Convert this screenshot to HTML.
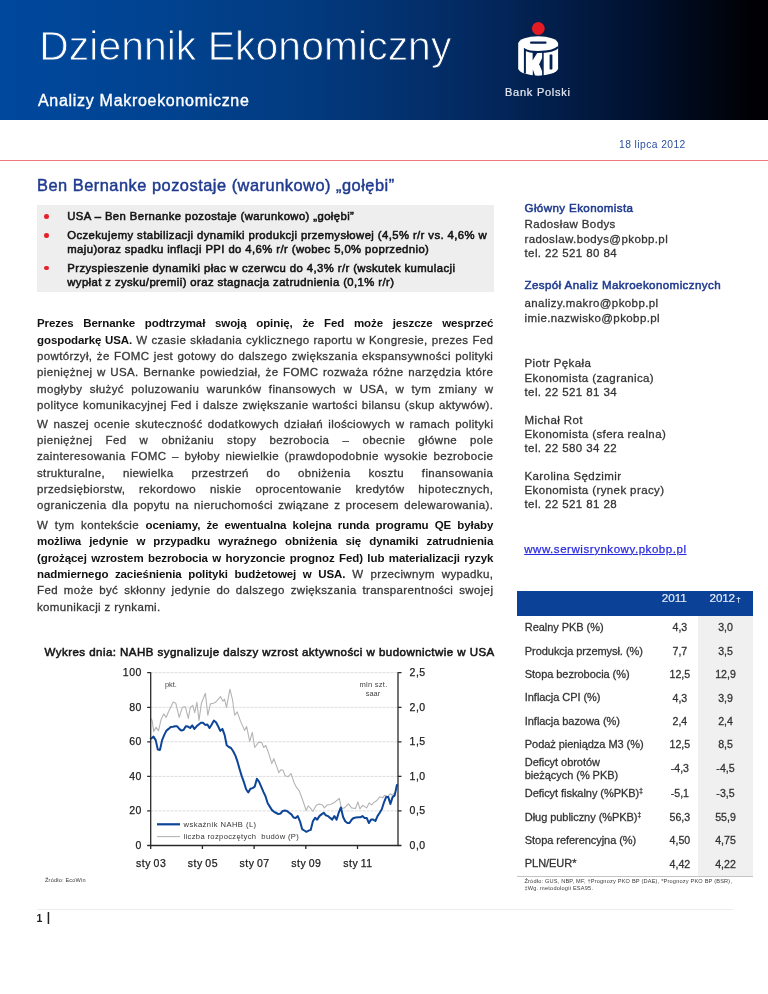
<!DOCTYPE html>
<html lang="pl"><head><meta charset="utf-8"><title>Dziennik Ekonomiczny</title>
<style>
html,body{margin:0;padding:0;background:#fff;}
body{width:768px;height:994px;position:relative;overflow:hidden;font-family:"Liberation Sans", sans-serif;color:#1a1a1a;}
.t{position:absolute;white-space:nowrap;margin:0;}
.j{white-space:normal;text-align:justify;text-align-last:justify;}
b{font-weight:700;letter-spacing:-0.08px;-webkit-text-stroke:0;color:#111;}
.p{-webkit-text-stroke:0.3px #383838;color:#383838;}
.s{-webkit-text-stroke:0.28px #333;}
.abs{position:absolute;}
</style></head>
<body>
<div class="abs" style="left:0;top:0;width:768px;height:119.5px;background:linear-gradient(90deg,#00489e 0.0%,#014391 19.5%,#023b80 39.1%,#03316f 52.1%,#03285e 62.5%,#021d48 72.9%,#01112f 83.3%,#000818 91.1%,#000105 97.7%,#000003 100.0%);"></div>
<svg class="abs" style="left:0;top:0" width="768" height="119" viewBox="0 0 768 119">
<defs><linearGradient id="hg" gradientUnits="userSpaceOnUse" x1="0" y1="0" x2="768" y2="0"><stop offset="0.0000" stop-color="#00489e"/><stop offset="0.1953" stop-color="#014391"/><stop offset="0.3906" stop-color="#023b80"/><stop offset="0.5208" stop-color="#03316f"/><stop offset="0.6250" stop-color="#03285e"/><stop offset="0.7292" stop-color="#021d48"/><stop offset="0.8333" stop-color="#01112f"/><stop offset="0.9115" stop-color="#000818"/><stop offset="0.9766" stop-color="#000105"/><stop offset="1.0000" stop-color="#000003"/></linearGradient></defs>
<text x="39.2" y="60.2" font-family="Liberation Sans, sans-serif" font-size="40.8" fill="#fff" stroke="url(#hg)" stroke-width="0.9" letter-spacing="0.09">Dziennik Ekonomiczny</text>
</svg>
<div class="t" style="left:38px;top:90.56px;font-size:16px;line-height:19px;color:#fff;letter-spacing:0.7px;-webkit-text-stroke:0.35px #fff;">Analizy Makroekonomiczne</div>
<div class="t" style="left:505px;top:86.29px;font-size:11px;line-height:13px;color:#e6e9f2;letter-spacing:0.75px;-webkit-text-stroke:0.2px #e6e9f2;">Bank Polski</div>
<svg class="abs" style="left:510px;top:15px" width="56" height="70" viewBox="0 0 56 70" role="img" aria-label="PKO Bank Polski"><title>PKO Bank Polski</title>
<circle cx="28.3" cy="13.5" r="6.4" fill="#e31b23"/>
<path d="M8.2 28.4 A20 7.7 0 0 1 48.1 28.4 L48.1 53.5 A20 7.7 0 0 1 8.2 53.5 Z" fill="#fff"/>
<rect x="20" y="26.5" width="16.6" height="2.3" rx="1.15" fill="#042152"/>
<path d="M48.1 32 C45 35.8 36 37 28 37 C22 37 17.5 36.2 14.9 34.6 L14.9 58.5" fill="none" stroke="#042152" stroke-width="2"/>
<path d="M22.6 37.6 L27.4 37.8 L22.6 45.6 Z" fill="#042152"/>
<path d="M32.6 42 L32.6 57.5 L29.2 49.2 Z" fill="#042152"/>
<path d="M22.8 61.2 L22.8 54.5 L25.4 61.4 Z" fill="#042152"/>
<path d="M32.9 36.3 L32.9 61" stroke="#042152" stroke-width="1.6"/>
<rect x="39.6" y="39.4" width="2.8" height="15" rx="0.6" fill="#042152"/>
</svg>
<div class="t" style="left:619px;top:138.73px;font-size:10.3px;line-height:12px;color:#2c4f9e;letter-spacing:0.42px;">18 lipca 2012</div>
<div class="abs" style="left:0;top:160px;width:768px;height:1px;background:#f0787c;"></div>
<div class="t" style="left:37px;top:175.32px;font-size:16.4px;line-height:20px;color:#1f3a8f;letter-spacing:0.5px;-webkit-text-stroke:0.45px #1f3a8f;">Ben Bernanke pozostaje (warunkowo) „gołębi”</div>
<div class="abs" style="left:37.3px;top:205.4px;width:456.7px;height:86.8px;background:#eeeeee;"></div>
<div class="abs" style="left:44.2px;top:214.29999999999998px;width:4.6px;height:4.6px;border-radius:50%;background:#e3212b;"></div>
<div class="abs" style="left:44.2px;top:233.2px;width:4.6px;height:4.6px;border-radius:50%;background:#e3212b;"></div>
<div class="abs" style="left:44.2px;top:265.9px;width:4.6px;height:4.6px;border-radius:50%;background:#e3212b;"></div>
<div class="t" style="left:67.3px;top:209.38px;font-size:11.3px;line-height:14px;color:#141414;letter-spacing:0.41px;-webkit-text-stroke:0.55px #141414;">USA – Ben Bernanke pozostaje (warunkowo) „gołębi”</div>
<div class="t" style="left:67.3px;top:227.98px;font-size:11.3px;line-height:14px;color:#141414;letter-spacing:0.41px;-webkit-text-stroke:0.55px #141414;">Oczekujemy stabilizacji dynamiki produkcji przemysłowej (4,5% r/r vs. 4,6% w</div>
<div class="t" style="left:67.3px;top:242.38px;font-size:11.3px;line-height:14px;color:#141414;letter-spacing:0.41px;-webkit-text-stroke:0.55px #141414;">maju)oraz spadku inflacji PPI do 4,6% r/r (wobec 5,0% poprzednio)</div>
<div class="t" style="left:67.3px;top:260.98px;font-size:11.3px;line-height:14px;color:#141414;letter-spacing:0.41px;-webkit-text-stroke:0.55px #141414;">Przyspieszenie dynamiki płac w czerwcu do 4,3% r/r (wskutek kumulacji</div>
<div class="t" style="left:67.3px;top:274.58px;font-size:11.3px;line-height:14px;color:#141414;letter-spacing:0.41px;-webkit-text-stroke:0.55px #141414;">wypłat z zysku/premii) oraz stagnacja zatrudnienia (0,1% r/r)</div>
<div class="t p j" style="left:37px;top:316.32px;font-size:11.5px;line-height:15px;width:456.3px;letter-spacing:0.36px;"><b>Prezes Bernanke podtrzymał swoją opinię, że Fed może jeszcze wesprzeć</b></div>
<div class="t p j" style="left:37px;top:332.62px;font-size:11.5px;line-height:15px;width:456.3px;letter-spacing:0.36px;"><b>gospodarkę USA.</b> W czasie składania cyklicznego raportu w Kongresie, prezes Fed</div>
<div class="t p j" style="left:37px;top:349.02px;font-size:11.5px;line-height:15px;width:456.3px;letter-spacing:0.36px;">powtórzył, że FOMC jest gotowy do dalszego zwiększania ekspansywności polityki</div>
<div class="t p j" style="left:37px;top:365.32px;font-size:11.5px;line-height:15px;width:456.3px;letter-spacing:0.36px;">pieniężnej w USA. Bernanke powiedział, że FOMC rozważa różne narzędzia które</div>
<div class="t p j" style="left:37px;top:381.62px;font-size:11.5px;line-height:15px;width:456.3px;letter-spacing:0.36px;">mogłyby służyć poluzowaniu warunków finansowych w USA, w tym zmiany w</div>
<div class="t p j" style="left:37px;top:398.02px;font-size:11.5px;line-height:15px;width:456.3px;letter-spacing:0.36px;">polityce komunikacyjnej Fed i dalsze zwiększanie wartości bilansu (skup aktywów).</div>
<div class="t p j" style="left:37px;top:416.72px;font-size:11.5px;line-height:15px;width:456.3px;letter-spacing:0.36px;">W naszej ocenie skuteczność dodatkowych działań ilościowych w ramach polityki</div>
<div class="t p j" style="left:37px;top:433.02px;font-size:11.5px;line-height:15px;width:456.3px;letter-spacing:0.36px;">pieniężnej Fed w obniżaniu stopy bezrobocia – obecnie główne pole</div>
<div class="t p j" style="left:37px;top:449.42px;font-size:11.5px;line-height:15px;width:456.3px;letter-spacing:0.36px;">zainteresowania FOMC – byłoby niewielkie (prawdopodobnie wysokie bezrobocie</div>
<div class="t p j" style="left:37px;top:465.72px;font-size:11.5px;line-height:15px;width:456.3px;letter-spacing:0.36px;">strukturalne, niewielka przestrzeń do obniżenia kosztu finansowania</div>
<div class="t p j" style="left:37px;top:482.02px;font-size:11.5px;line-height:15px;width:456.3px;letter-spacing:0.36px;">przedsiębiorstw, rekordowo niskie oprocentowanie kredytów hipotecznych,</div>
<div class="t p j" style="left:37px;top:498.42px;font-size:11.5px;line-height:15px;width:456.3px;letter-spacing:0.36px;">ograniczenia dla popytu na nieruchomości związane z procesem delewarowania).</div>
<div class="t p j" style="left:37px;top:517.92px;font-size:11.5px;line-height:15px;width:456.3px;letter-spacing:0.36px;">W tym kontekście <b>oceniamy, że ewentualna kolejna runda programu QE byłaby</b></div>
<div class="t p j" style="left:37px;top:534.32px;font-size:11.5px;line-height:15px;width:456.3px;letter-spacing:0.36px;"><b>możliwa jedynie w przypadku wyraźnego obniżenia się dynamiki zatrudnienia</b></div>
<div class="t p j" style="left:37px;top:550.62px;font-size:11.5px;line-height:15px;width:456.3px;letter-spacing:0.36px;"><b>(grożącej wzrostem bezrobocia w horyzoncie prognoz Fed) lub materializacji ryzyk</b></div>
<div class="t p j" style="left:37px;top:566.92px;font-size:11.5px;line-height:15px;width:456.3px;letter-spacing:0.36px;"><b>nadmiernego zacieśnienia polityki budżetowej w USA.</b> W przeciwnym wypadku,</div>
<div class="t p j" style="left:37px;top:583.32px;font-size:11.5px;line-height:15px;width:456.3px;letter-spacing:0.36px;">Fed może być skłonny jedynie do dalszego zwiększania transparentności swojej</div>
<div class="t p" style="left:37px;top:599.62px;font-size:11.5px;line-height:15px;width:456.3px;letter-spacing:0.36px;white-space:nowrap;">komunikacji z rynkami.</div>
<div class="t" style="left:524.5px;top:200.88px;font-size:11.6px;line-height:14px;color:#1f3a8f;letter-spacing:0.38px;-webkit-text-stroke:0.5px #1f3a8f;">Główny Ekonomista</div>
<div class="t s" style="left:524.5px;top:217.32px;font-size:11.5px;line-height:14px;color:#333;letter-spacing:0.4px;">Radosław Bodys</div>
<div class="t s" style="left:524.5px;top:231.72px;font-size:11.5px;line-height:14px;color:#333;letter-spacing:0.4px;">radoslaw.bodys@pkobp.pl</div>
<div class="t s" style="left:524.5px;top:245.82px;font-size:11.5px;line-height:14px;color:#333;letter-spacing:0.4px;">tel. 22 521 80 84</div>
<div class="t" style="left:524.5px;top:278.28px;font-size:11.6px;line-height:14px;color:#1f3a8f;letter-spacing:0.38px;-webkit-text-stroke:0.5px #1f3a8f;">Zespół Analiz Makroekonomicznych</div>
<div class="t s" style="left:524.5px;top:295.72px;font-size:11.5px;line-height:14px;color:#333;letter-spacing:0.4px;">analizy.makro@pkobp.pl</div>
<div class="t s" style="left:524.5px;top:311.32px;font-size:11.5px;line-height:14px;color:#333;letter-spacing:0.4px;">imie.nazwisko@pkobp.pl</div>
<div class="t s" style="left:524.5px;top:356.42px;font-size:11.5px;line-height:14px;color:#333;letter-spacing:0.4px;">Piotr Pękała</div>
<div class="t s" style="left:524.5px;top:370.82px;font-size:11.5px;line-height:14px;color:#333;letter-spacing:0.4px;">Ekonomista (zagranica)</div>
<div class="t s" style="left:524.5px;top:384.72px;font-size:11.5px;line-height:14px;color:#333;letter-spacing:0.4px;">tel. 22 521 81 34</div>
<div class="t s" style="left:524.5px;top:413.02px;font-size:11.5px;line-height:14px;color:#333;letter-spacing:0.4px;">Michał Rot</div>
<div class="t s" style="left:524.5px;top:427.22px;font-size:11.5px;line-height:14px;color:#333;letter-spacing:0.4px;">Ekonomista (sfera realna)</div>
<div class="t s" style="left:524.5px;top:441.22px;font-size:11.5px;line-height:14px;color:#333;letter-spacing:0.4px;">tel. 22 580 34 22</div>
<div class="t s" style="left:524.5px;top:469.32px;font-size:11.5px;line-height:14px;color:#333;letter-spacing:0.4px;">Karolina Sędzimir</div>
<div class="t s" style="left:524.5px;top:483.22px;font-size:11.5px;line-height:14px;color:#333;letter-spacing:0.4px;">Ekonomista (rynek pracy)</div>
<div class="t s" style="left:524.5px;top:497.42px;font-size:11.5px;line-height:14px;color:#333;letter-spacing:0.4px;">tel. 22 521 81 28</div>
<div class="t" style="left:524.2px;top:541.82px;font-size:11.5px;line-height:14px;color:#2a2ae0;letter-spacing:0.55px;text-decoration:underline;-webkit-text-stroke:0.25px #2a2ae0;">www.serwisrynkowy.pkobp.pl</div>
<div class="abs" style="left:517.2px;top:591px;width:236.1px;height:25.2px;background:#0b4297;"></div>
<div class="abs" style="left:698.3px;top:616.2px;width:55px;height:259.6px;background:#f0f0f0;"></div>
<div class="abs" style="left:517.2px;top:875.9px;width:236.1px;height:1px;background:#c4c4c4;"></div>
<div class="t" style="left:661.7px;top:590.65px;font-size:11.7px;line-height:14px;color:#e4e9f4;-webkit-text-stroke:0.2px #e4e9f4;">2011</div>
<div class="t" style="left:709.6px;top:590.65px;font-size:11.7px;line-height:14px;color:#e4e9f4;letter-spacing:-0.2px;-webkit-text-stroke:0.2px #e4e9f4;">2012<span style="font-size:8px;margin-left:1.5px">†</span></div>
<div class="t s" style="left:524.8px;top:621.19px;font-size:11px;line-height:13px;color:#333;letter-spacing:-0.05px;">Realny PKB (%)</div>
<div class="t s" style="left:654.9px;top:621.33px;font-size:10.6px;line-height:13px;color:#333;width:50px;text-align:center;">4,3</div>
<div class="t s" style="left:700.5px;top:621.33px;font-size:10.6px;line-height:13px;color:#333;width:50px;text-align:center;">3,0</div>
<div class="t s" style="left:524.8px;top:644.59px;font-size:11px;line-height:13px;color:#333;letter-spacing:-0.05px;">Produkcja przemysł. (%)</div>
<div class="t s" style="left:654.9px;top:644.73px;font-size:10.6px;line-height:13px;color:#333;width:50px;text-align:center;">7,7</div>
<div class="t s" style="left:700.5px;top:644.73px;font-size:10.6px;line-height:13px;color:#333;width:50px;text-align:center;">3,5</div>
<div class="t s" style="left:524.8px;top:667.99px;font-size:11px;line-height:13px;color:#333;letter-spacing:-0.05px;">Stopa bezrobocia (%)</div>
<div class="t s" style="left:654.9px;top:668.13px;font-size:10.6px;line-height:13px;color:#333;width:50px;text-align:center;">12,5</div>
<div class="t s" style="left:700.5px;top:668.13px;font-size:10.6px;line-height:13px;color:#333;width:50px;text-align:center;">12,9</div>
<div class="t s" style="left:524.8px;top:691.39px;font-size:11px;line-height:13px;color:#333;letter-spacing:-0.05px;">Inflacja CPI (%)</div>
<div class="t s" style="left:654.9px;top:691.53px;font-size:10.6px;line-height:13px;color:#333;width:50px;text-align:center;">4,3</div>
<div class="t s" style="left:700.5px;top:691.53px;font-size:10.6px;line-height:13px;color:#333;width:50px;text-align:center;">3,9</div>
<div class="t s" style="left:524.8px;top:714.79px;font-size:11px;line-height:13px;color:#333;letter-spacing:-0.05px;">Inflacja bazowa (%)</div>
<div class="t s" style="left:654.9px;top:714.93px;font-size:10.6px;line-height:13px;color:#333;width:50px;text-align:center;">2,4</div>
<div class="t s" style="left:700.5px;top:714.93px;font-size:10.6px;line-height:13px;color:#333;width:50px;text-align:center;">2,4</div>
<div class="t s" style="left:524.8px;top:738.09px;font-size:11px;line-height:13px;color:#333;letter-spacing:-0.05px;">Podaż pieniądza M3 (%)</div>
<div class="t s" style="left:654.9px;top:738.23px;font-size:10.6px;line-height:13px;color:#333;width:50px;text-align:center;">12,5</div>
<div class="t s" style="left:700.5px;top:738.23px;font-size:10.6px;line-height:13px;color:#333;width:50px;text-align:center;">8,5</div>
<div class="t s" style="left:654.9px;top:762.33px;font-size:10.6px;line-height:13px;color:#333;width:50px;text-align:center;">-4,3</div>
<div class="t s" style="left:700.5px;top:762.33px;font-size:10.6px;line-height:13px;color:#333;width:50px;text-align:center;">-4,5</div>
<div class="t s" style="left:524.8px;top:787.19px;font-size:11px;line-height:13px;color:#333;letter-spacing:-0.05px;">Deficyt fiskalny (%PKB)<span style="font-size:6.5px;position:relative;top:-4px;letter-spacing:0">‡</span></div>
<div class="t s" style="left:654.9px;top:787.33px;font-size:10.6px;line-height:13px;color:#333;width:50px;text-align:center;">-5,1</div>
<div class="t s" style="left:700.5px;top:787.33px;font-size:10.6px;line-height:13px;color:#333;width:50px;text-align:center;">-3,5</div>
<div class="t s" style="left:524.8px;top:810.59px;font-size:11px;line-height:13px;color:#333;letter-spacing:-0.05px;">Dług publiczny (%PKB)<span style="font-size:6.5px;position:relative;top:-4px;letter-spacing:0">‡</span></div>
<div class="t s" style="left:654.9px;top:810.73px;font-size:10.6px;line-height:13px;color:#333;width:50px;text-align:center;">56,3</div>
<div class="t s" style="left:700.5px;top:810.73px;font-size:10.6px;line-height:13px;color:#333;width:50px;text-align:center;">55,9</div>
<div class="t s" style="left:524.8px;top:833.89px;font-size:11px;line-height:13px;color:#333;letter-spacing:-0.05px;">Stopa referencyjna (%)</div>
<div class="t s" style="left:654.9px;top:834.03px;font-size:10.6px;line-height:13px;color:#333;width:50px;text-align:center;">4,50</div>
<div class="t s" style="left:700.5px;top:834.03px;font-size:10.6px;line-height:13px;color:#333;width:50px;text-align:center;">4,75</div>
<div class="t s" style="left:524.8px;top:857.49px;font-size:11px;line-height:13px;color:#333;letter-spacing:-0.05px;">PLN/EUR*</div>
<div class="t s" style="left:654.9px;top:857.63px;font-size:10.6px;line-height:13px;color:#333;width:50px;text-align:center;">4,42</div>
<div class="t s" style="left:700.5px;top:857.63px;font-size:10.6px;line-height:13px;color:#333;width:50px;text-align:center;">4,22</div>
<div class="t s" style="left:524.8px;top:756.29px;font-size:11px;line-height:13px;color:#333;letter-spacing:-0.05px;">Deficyt obrotów</div>
<div class="t s" style="left:524.8px;top:768.79px;font-size:11px;line-height:13px;color:#333;letter-spacing:-0.05px;">bieżących (% PKB)</div>
<div class="t" style="left:524.4px;top:878.06px;font-size:5.6px;line-height:7px;color:#3a3a3a;letter-spacing:0.2px;">Źródło: GUS, NBP, MF, †Prognozy PKO BP (DAE), *Prognozy PKO BP (BSR),</div>
<div class="t" style="left:524.4px;top:885.06px;font-size:5.6px;line-height:7px;color:#3a3a3a;letter-spacing:0.22px;">‡Wg. metodologii ESA95.</div>
<div class="t" style="left:44.5px;top:645.22px;font-size:11.5px;line-height:14px;color:#161616;letter-spacing:0.465px;-webkit-text-stroke:0.55px #161616;">Wykres dnia: NAHB sygnalizuje dalszy wzrost aktywności w budownictwie w USA</div>
<div class="t" style="left:45px;top:877.16px;font-size:5.6px;line-height:7px;color:#3a3a3a;letter-spacing:0.18px;">Źródło: EcoWin</div>
<div class="abs" style="left:37px;top:909.3px;width:696px;height:1px;background:#ececec;"></div>
<div class="t" style="left:36.5px;top:910.66px;font-size:10.5px;line-height:14px;color:#222;font-weight:700;">1&nbsp;<span style="font-size:12px;position:relative;top:-0.5px;left:1.5px">|</span></div>
<svg class="abs" style="left:0;top:640px" width="520" height="250" viewBox="0 640 520 250" font-family="Liberation Sans, sans-serif">
<line x1="150.7" y1="810.9" x2="398.0" y2="810.9" stroke="#dcdcdc" stroke-width="1" stroke-dasharray="3 1"/>
<line x1="150.7" y1="776.4" x2="398.0" y2="776.4" stroke="#dcdcdc" stroke-width="1" stroke-dasharray="3 1"/>
<line x1="150.7" y1="741.8" x2="398.0" y2="741.8" stroke="#dcdcdc" stroke-width="1" stroke-dasharray="3 1"/>
<line x1="150.7" y1="707.3" x2="398.0" y2="707.3" stroke="#dcdcdc" stroke-width="1" stroke-dasharray="3 1"/>
<line x1="150.7" y1="672.7" x2="398.0" y2="672.7" stroke="#dcdcdc" stroke-width="1" stroke-dasharray="3 1"/>
<polyline points="150.7,718.4 152.1,720.4 153.7,731.4 156.1,727.4 158.5,730.8 161.1,719.4 163.7,713.9 166.2,717.3 169.2,710.3 173.2,701.9 175.8,703.3 179.2,717.3 182.3,707.3 185.3,706.7 188.3,718.4 190.3,707.3 192.7,705.3 194.7,712.7 196.9,702.3 199.0,720.4 201.4,703.3 205.4,693.2 207.8,715.3 210.4,703.9 213.4,703.3 215.5,702.3 220.5,696.6 222.9,701.2 224.5,699.2 226.5,707.3 229.9,689.2 232.6,700.2 234.6,715.3 237.2,711.9 240.6,721.4 244.6,730.4 246.6,726.4 249.7,741.5 252.3,732.4 254.7,747.5 258.7,742.1 261.7,742.5 263.7,747.5 265.8,745.5 268.8,753.6 271.8,763.6 273.8,758.6 276.8,766.6 278.8,772.7 281.1,769.7 283.1,770.3 285.1,775.7 288.1,776.7 291.1,773.7 294.1,782.7 296.2,786.8 299.2,790.8 302.2,798.8 306.2,810.5 308.2,805.9 310.2,807.9 312.9,811.3 316.3,805.3 319.3,803.9 322.7,805.3 324.3,807.9 327.3,804.9 330.4,804.5 334.4,802.5 339.4,798.4 341.4,808.5 344.4,807.9 348.5,803.9 351.5,807.9 355.5,808.5 357.9,801.9 359.9,808.9 362.6,805.3 366.6,807.9 369.2,802.9 371.6,804.9 374.6,801.9 376.6,800.8 379.7,796.8 382.7,797.8 384.7,795.2 387.7,796.4 390.3,793.8 392.3,795.2 394.7,792.8" fill="none" stroke="#b4b4b4" stroke-width="1.1" stroke-linejoin="round"/>
<polyline points="150.7,738.4 151.3,738.4 153.5,736.6 155.7,740.1 157.8,749.6 160.0,749.9 162.1,740.1 164.3,734.9 166.4,730.6 168.6,728.9 170.7,727.1 172.9,726.8 175.0,726.3 177.2,726.3 179.3,728.9 181.5,730.6 183.7,729.7 185.8,726.3 188.0,726.6 190.1,728.0 192.3,725.4 194.4,728.9 196.6,726.3 198.7,724.5 200.9,722.8 203.0,722.8 205.2,724.9 207.4,724.5 209.5,728.0 211.7,724.5 213.8,720.6 216.0,722.3 218.1,726.3 220.3,730.9 222.4,728.9 224.6,734.9 226.7,745.3 228.9,747.0 231.0,748.0 233.2,751.3 235.4,755.6 237.5,761.7 239.7,769.5 241.8,776.4 244.0,782.4 246.1,789.3 248.3,792.5 250.4,788.8 252.6,788.1 254.7,786.7 256.9,778.8 259.0,781.6 261.2,786.7 263.4,791.9 265.5,796.3 267.7,803.2 269.8,806.6 272.0,810.1 274.1,811.8 276.3,813.0 278.4,814.1 280.6,813.5 282.7,810.9 284.9,810.6 287.0,810.9 289.2,812.7 291.4,814.4 293.5,817.5 295.7,817.9 297.8,816.1 300.0,821.3 302.1,829.1 304.3,830.5 306.4,831.8 308.6,830.6 310.7,829.9 312.9,821.3 315.1,817.9 317.2,819.6 319.4,816.1 321.5,814.4 323.7,812.7 325.8,815.3 328.0,816.1 330.1,817.9 332.3,819.6 334.4,816.1 336.6,819.6 338.7,812.7 340.9,807.5 343.1,817.0 345.2,821.3 347.4,823.0 349.5,823.0 351.7,819.6 353.8,817.9 356.0,817.5 358.1,817.3 360.3,817.3 362.4,816.1 364.6,817.9 366.7,817.9 368.9,823.0 371.1,819.6 373.2,819.6 375.4,821.0 377.5,816.1 379.7,812.7 381.8,809.2 384.0,802.3 386.1,797.1 388.3,797.1 390.4,804.0 392.6,797.1 394.7,795.4 396.9,785.0" fill="none" stroke="#0d4598" stroke-width="2" stroke-linejoin="round" stroke-linecap="round"/>
<path d="M150.7 672.2 V845.5 H398.0 V672.2" fill="none" stroke="#2a2a2a" stroke-width="1.3"/>
<path d="M147.2 845.5 H150.7 M398.0 845.5 H401.5 M147.2 810.9 H150.7 M398.0 810.9 H401.5 M147.2 776.4 H150.7 M398.0 776.4 H401.5 M147.2 741.8 H150.7 M398.0 741.8 H401.5 M147.2 707.3 H150.7 M398.0 707.3 H401.5 M147.2 672.7 H150.7 M398.0 672.7 H401.5 M150.7 845.5 V849.0 M202.4 845.5 V849.0 M254.1 845.5 V849.0 M305.8 845.5 V849.0 M357.5 845.5 V849.0" stroke="#2a2a2a" stroke-width="1.3" fill="none"/>
<text x="142" y="848.9" font-size="10.5" text-anchor="end" fill="#222" stroke="#222" stroke-width="0.25" letter-spacing="0.55">0</text>
<text x="409.5" y="848.9" font-size="10.5" fill="#222" stroke="#222" stroke-width="0.25" letter-spacing="0.55">0,0</text>
<text x="142" y="814.3" font-size="10.5" text-anchor="end" fill="#222" stroke="#222" stroke-width="0.25" letter-spacing="0.55">20</text>
<text x="409.5" y="814.3" font-size="10.5" fill="#222" stroke="#222" stroke-width="0.25" letter-spacing="0.55">0,5</text>
<text x="142" y="779.8" font-size="10.5" text-anchor="end" fill="#222" stroke="#222" stroke-width="0.25" letter-spacing="0.55">40</text>
<text x="409.5" y="779.8" font-size="10.5" fill="#222" stroke="#222" stroke-width="0.25" letter-spacing="0.55">1,0</text>
<text x="142" y="745.2" font-size="10.5" text-anchor="end" fill="#222" stroke="#222" stroke-width="0.25" letter-spacing="0.55">60</text>
<text x="409.5" y="745.2" font-size="10.5" fill="#222" stroke="#222" stroke-width="0.25" letter-spacing="0.55">1,5</text>
<text x="142" y="710.7" font-size="10.5" text-anchor="end" fill="#222" stroke="#222" stroke-width="0.25" letter-spacing="0.55">80</text>
<text x="409.5" y="710.7" font-size="10.5" fill="#222" stroke="#222" stroke-width="0.25" letter-spacing="0.55">2,0</text>
<text x="142" y="676.1" font-size="10.5" text-anchor="end" fill="#222" stroke="#222" stroke-width="0.25" letter-spacing="0.55">100</text>
<text x="409.5" y="676.1" font-size="10.5" fill="#222" stroke="#222" stroke-width="0.25" letter-spacing="0.55">2,5</text>
<text x="151.2" y="867" font-size="10.5" text-anchor="middle" fill="#222" stroke="#222" stroke-width="0.25" letter-spacing="0.55" word-spacing="-1">sty 03</text>
<text x="202.9" y="867" font-size="10.5" text-anchor="middle" fill="#222" stroke="#222" stroke-width="0.25" letter-spacing="0.55" word-spacing="-1">sty 05</text>
<text x="254.6" y="867" font-size="10.5" text-anchor="middle" fill="#222" stroke="#222" stroke-width="0.25" letter-spacing="0.55" word-spacing="-1">sty 07</text>
<text x="306.3" y="867" font-size="10.5" text-anchor="middle" fill="#222" stroke="#222" stroke-width="0.25" letter-spacing="0.55" word-spacing="-1">sty 09</text>
<text x="358.0" y="867" font-size="10.5" text-anchor="middle" fill="#222" stroke="#222" stroke-width="0.25" letter-spacing="0.55" word-spacing="-1">sty 11</text>
<text x="165" y="686.5" font-size="7.4" fill="#444">pkt.</text>
<text x="373.5" y="686.8" font-size="7.6" fill="#444" text-anchor="middle" letter-spacing="0.25">mln szt.</text>
<text x="373" y="696" font-size="7.4" fill="#444" text-anchor="middle">saar</text>
<line x1="157" y1="824.3" x2="180" y2="824.3" stroke="#0d4598" stroke-width="2.2"/>
<line x1="157" y1="836.6" x2="180" y2="836.6" stroke="#b4b4b4" stroke-width="1.1"/>
<text x="183.5" y="826.9" font-size="7.6" fill="#333" letter-spacing="0.45">wskaźnik NAHB (L)</text>
<text x="183.5" y="839.2" font-size="7.6" fill="#333" letter-spacing="0.35" xml:space="preserve">liczba rozpoczętych  budów (P)</text>
</svg>
</body></html>
